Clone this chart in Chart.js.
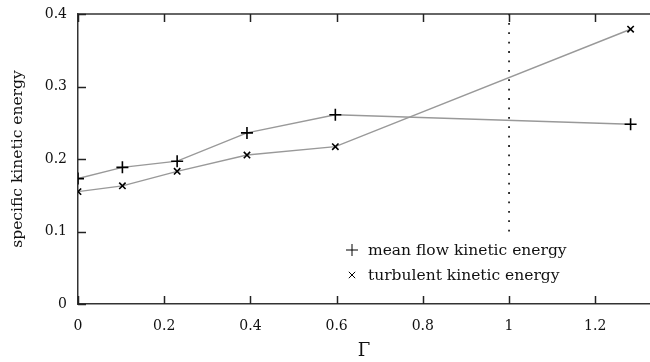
<!DOCTYPE html>
<html>
<head>
<meta charset="utf-8">
<script src="https://cdn.jsdelivr.net/npm/chart.js@4"></script>
<style>
  html, body { margin: 0; padding: 0; background: #fff; }
</style>
</head>
<body>
<canvas id="chart" width="650" height="362"></canvas>
<script>
/* ================= DATA ================= */
const gammaValues = [0, 0.103, 0.23, 0.392, 0.597, 1.282];
const meanFlowEnergy = [0.173, 0.1885, 0.197, 0.236, 0.261, 0.248];
const turbulentEnergy = [0.155, 0.163, 0.183, 0.2055, 0.217, 0.379];
const seriesLabels = ["mean flow kinetic energy", "turbulent kinetic energy"];
const xTicks = [0, 0.2, 0.4, 0.6, 0.8, 1, 1.2];
const yTicks = [0, 0.1, 0.2, 0.3, 0.4];
const criticalGamma = [1, 1];
const criticalRange = [0.1, 0.4];

/* ================= STYLE ================= */
const FONT = "'DejaVu Serif', 'Liberation Serif', serif";
const AXIS_COLOR = "#333";
const LINE_COLOR = "#999";
const TICK_LEN = 8;

const toPoints = (xs, ys) => xs.map((x, i) => ({ x, y: ys[i] }));

/* ================= PLUGINS ================= */
// inward ticks on left, bottom and top + top frame line
const frameTicks = {
    id: "frameTicks",
    afterDraw(chart) {
        const { ctx, chartArea: a } = chart;
        const xs = chart.scales.x, ys = chart.scales.y;
        const seg = (x1, y1, x2, y2) => {
            ctx.beginPath();
            ctx.moveTo(x1, y1);
            ctx.lineTo(x2, y2);
            ctx.stroke();
        };
        ctx.save();
        ctx.setLineDash([]);
        ctx.strokeStyle = AXIS_COLOR;
        ctx.lineWidth = 1.5;
        seg(a.left, a.top, chart.width, a.top);
        ctx.strokeStyle = "#222";
        ctx.lineWidth = 1.5;
        xTicks.forEach(v => {
            const px = Math.round(xs.getPixelForValue(v)) + 0.5;
            seg(px, a.bottom, px, a.bottom - TICK_LEN);
            seg(px, a.top, px, a.top + TICK_LEN);
        });
        yTicks.forEach(v => {
            const py = Math.round(ys.getPixelForValue(v)) + 0.5;
            seg(a.left, py, a.left + TICK_LEN, py);
        });
        ctx.restore();
    }
};

// legend inside lower right of plot
const innerLegend = {
    id: "innerLegend",
    afterDraw(chart) {
        const { ctx } = chart;
        ctx.save();
        ctx.setLineDash([]);
        ctx.font = "15.5px " + FONT;
        ctx.fillStyle = "#111";
        ctx.textBaseline = "middle";
        [0, 1].forEach(i => {
            const ds = chart.data.datasets[i];
            const y = 250 + i * 25;
            ctx.strokeStyle = "#000";
            Chart.helpers.drawPoint(ctx, {
                pointStyle: ds.pointStyle,
                radius: ds.pointRadius,
                borderWidth: ds.pointBorderWidth,
                rotation: 0
            }, 352, y);
            ctx.fillText(ds.label, 368, y + 1);
        });
        ctx.restore();
    }
};

/* ================= CHART ================= */
new Chart(document.getElementById("chart"), {
    type: "scatter",
    data: {
        datasets: [
            {
                label: seriesLabels[0],
                data: toPoints(gammaValues, meanFlowEnergy),
                showLine: true,
                borderColor: LINE_COLOR,
                borderWidth: 1.4,
                pointStyle: "cross",
                pointRadius: 6,
                pointBorderColor: "#000",
                pointBorderWidth: 1.6
            },
            {
                label: seriesLabels[1],
                data: toPoints(gammaValues, turbulentEnergy),
                showLine: true,
                borderColor: LINE_COLOR,
                borderWidth: 1.4,
                pointStyle: "crossRot",
                pointRadius: 4.5,
                pointBorderColor: "#000",
                pointBorderWidth: 1.6
            },
            {
                label: "critical",
                data: toPoints(criticalGamma, criticalRange),
                showLine: true,
                borderColor: "#222",
                borderWidth: 1.8,
                borderDash: [1.8, 7.6],
                pointRadius: 0
            }
        ]
    },
    options: {
        responsive: false,
        animation: false,
        layout: { autoPadding: false, padding: { top: 14, right: 0, left: 0, bottom: 0 } },
        plugins: {
            legend: { display: false },
            tooltip: { enabled: false }
        },
        scales: {
            x: {
                type: "linear",
                min: 0,
                max: 1.327,
                afterBuildTicks: s => { s.ticks = xTicks.map(v => ({ value: v })); },
                afterFit: s => { s.height = 58; s.paddingLeft = 0; s.paddingRight = 0; },
                border: { color: AXIS_COLOR, width: 1.5 },
                grid: { display: false, drawTicks: false },
                ticks: {
                    padding: 14,
                    color: "#111",
                    font: { family: FONT, size: 14 },
                    maxRotation: 0,
                    callback: v => String(Math.round(v * 10) / 10)
                },
                title: {
                    display: true,
                    text: "Γ",
                    color: "#111",
                    font: { family: FONT, size: 18 },
                    padding: { top: 2, bottom: 0 }
                }
            },
            y: {
                min: 0,
                max: 0.4,
                afterBuildTicks: s => { s.ticks = yTicks.map(v => ({ value: v })); },
                afterFit: s => { s.width = 78; s.paddingTop = 0; s.paddingBottom = 0; },
                border: { color: AXIS_COLOR, width: 1.5 },
                grid: { display: false, drawTicks: false },
                ticks: {
                    padding: 11,
                    color: "#111",
                    font: { family: FONT, size: 14 },
                    callback: v => String(Math.round(v * 10) / 10)
                },
                title: {
                    display: true,
                    text: "specific kinetic energy",
                    color: "#111",
                    font: { family: FONT, size: 15.5 },
                    padding: { top: 9, bottom: 0 }
                }
            }
        }
    },
    plugins: [frameTicks, innerLegend]
});
</script>
</body>
</html>
